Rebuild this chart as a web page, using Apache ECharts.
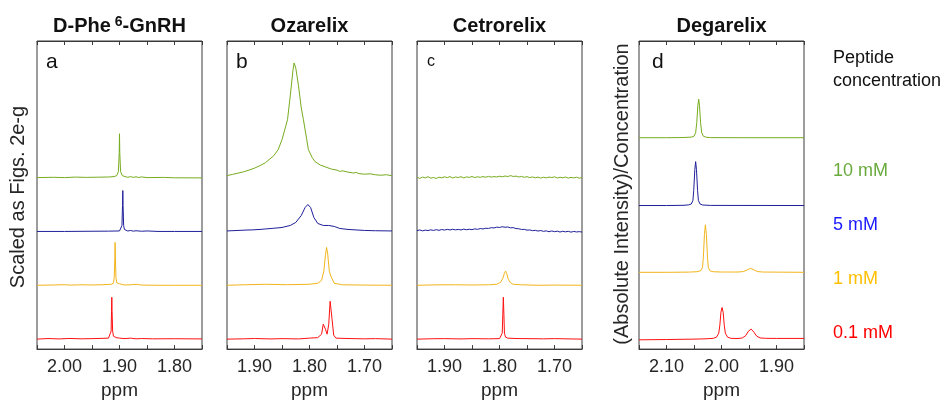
<!DOCTYPE html>
<html>
<head>
<meta charset="utf-8">
<script src="https://cdn.jsdelivr.net/npm/echarts@6/dist/echarts.min.js"></script>
<style>
  html, body { margin: 0; padding: 0; background: #fff; }
  #chart { width: 945px; height: 405px; }
</style>
</head>
<body>
<div id="chart"></div>
<script>
// concentrations, top trace first
const concentrations = ['10 mM', '5 mM', '1 mM', '0.1 mM'];
const lineColors = ['#77ac1e', '#1f1f9a', '#f2b51c', '#ff1010'];
const labelColors = ['#6aaa3c', '#1a1aff', '#ffbf00', '#ff0000'];

const panelTitles = ['{b|D-Phe}{s|6}{b|-GnRH}', '{b|Ozarelix}', '{b|Cetrorelix}', '{b|Degarelix}'];
const panelLetters = ['a', 'b', 'c', 'd'];
const ppmRanges = [[1.75, 2.05], [1.65, 1.95], [1.65, 1.95], [1.85, 2.15]];

// vertical offsets of the stacked spectra (same units as intensities)
const offsetsABC = [172, 118, 64, 10];
const offsetsD = [212, 144, 77, 10];

// panel a: D-Phe6-GnRH  [ppm, intensity]
const aGreen = [[2.05,0],[2.02,0.3],[2.00,0],[1.98,0.5],[1.96,0.2],[1.94,0.4],[1.92,0.6],[1.91,1],[1.905,2],[1.902,6],[1.9005,25],[1.900,44],[1.8995,25],[1.898,6],[1.895,2],[1.89,1],[1.885,0.3],[1.88,1],[1.875,0.2],[1.87,0.8],[1.865,0.1],[1.86,0.7],[1.85,0],[1.82,0.2],[1.80,-0.2],[1.75,-0.3]];
const aBlue = [[2.05,0],[2.00,0],[1.95,0.2],[1.92,0.3],[1.90,0.5],[1.897,1.5],[1.8955,6],[1.8945,26],[1.894,41],[1.8935,26],[1.8925,6],[1.891,2],[1.888,1],[1.885,0.4],[1.88,1],[1.875,0.3],[1.87,0.7],[1.86,0.2],[1.85,0.5],[1.83,0],[1.80,0],[1.75,0]];
const aYellow = [[2.05,0],[2.02,0.3],[2.00,0.6],[1.99,0.2],[1.97,0.5],[1.95,0.3],[1.93,0.6],[1.915,1],[1.911,2],[1.9095,8],[1.9085,28],[1.908,43],[1.9075,28],[1.9065,8],[1.905,2.5],[1.90,1.5],[1.895,0.8],[1.89,0.3],[1.88,0.5],[1.87,1],[1.86,0.2],[1.83,0],[1.80,0],[1.75,0]];
const aRed = [[2.05,0],[2.03,0.6],[2.01,0.2],[1.99,0.7],[1.97,0.3],[1.95,0.5],[1.93,0.8],[1.92,1],[1.9165,2],[1.9152,8],[1.9145,28],[1.914,42],[1.9135,28],[1.9125,8],[1.911,3],[1.906,1.5],[1.90,1],[1.89,0.5],[1.88,1],[1.87,0.3],[1.86,0.6],[1.84,0.3],[1.80,0.4],[1.75,0.2]];

// panel b: Ozarelix
const bGreen = [[1.95,2],[1.94,3.2],[1.93,4.5],[1.92,5.8],[1.91,7.5],[1.90,9.5],[1.89,12],[1.88,15],[1.865,22],[1.857,28],[1.85,38],[1.845,48],[1.84,58],[1.835,82],[1.83,108],[1.828,115],[1.825,110],[1.82,92],[1.815,70],[1.811,58],[1.805,38],[1.802,28],[1.795,20],[1.79,16],[1.78,12.5],[1.77,10.5],[1.76,8.5],[1.75,7.5],[1.745,6.2],[1.74,6.8],[1.73,5.5],[1.72,4.6],[1.715,5.2],[1.71,4],[1.70,3.4],[1.69,3.8],[1.68,2.8],[1.67,2.4],[1.66,2.9],[1.65,1.8]];
const bBlue = [[1.95,0.5],[1.93,1],[1.91,1.5],[1.908,3],[1.906,1.5],[1.89,2],[1.88,2.5],[1.865,3.2],[1.85,4],[1.835,6],[1.825,9],[1.815,16],[1.808,24],[1.803,27],[1.798,24],[1.792,14],[1.785,8],[1.775,6],[1.765,6],[1.755,5],[1.745,3],[1.73,2],[1.70,1],[1.68,0.7],[1.65,0.5]];
const bYellow = [[1.95,0],[1.92,0.5],[1.88,1],[1.84,0.6],[1.80,1],[1.785,2],[1.778,5],[1.774,14],[1.771,30],[1.769,38],[1.767,32],[1.764,14],[1.761,9],[1.758,7],[1.755,2],[1.74,0.5],[1.70,0.2],[1.65,0]];
const bRed = [[1.95,0],[1.92,0.3],[1.90,0.6],[1.87,0.2],[1.85,0.5],[1.82,0.2],[1.80,1],[1.785,1.5],[1.778,5],[1.775,15],[1.7735,17],[1.771,10],[1.768,5],[1.765,15],[1.7625,38],[1.7615,39],[1.759,20],[1.756,4],[1.752,1],[1.73,0.6],[1.70,0.3],[1.68,0.5],[1.65,0]];

// panel c: Cetrorelix
const cGreen = [[1.950,0.2],[1.945,-0.8],[1.940,0.5],[1.935,-0.3],[1.930,0.9],[1.925,-0.6],[1.920,0.1],[1.915,-0.9],[1.910,0.4],[1.905,-0.2],[1.900,0.8],[1.895,0.0],[1.890,1.0],[1.885,-0.4],[1.880,0.6],[1.875,0.1],[1.870,0.9],[1.865,-0.3],[1.860,0.7],[1.855,0.2],[1.850,1.1],[1.845,0.1],[1.840,0.8],[1.835,0.3],[1.830,1.0],[1.825,0.4],[1.820,1.2],[1.815,0.5],[1.810,1.0],[1.805,0.6],[1.800,1.4],[1.795,0.8],[1.790,1.6],[1.785,1.0],[1.780,2.0],[1.775,1.1],[1.770,1.5],[1.765,0.6],[1.760,1.2],[1.755,0.3],[1.750,0.9],[1.745,0.0],[1.740,0.7],[1.735,-0.2],[1.730,0.5],[1.725,-0.5],[1.720,0.4],[1.715,-0.3],[1.710,0.6],[1.705,0.0],[1.700,0.8],[1.695,-0.4],[1.690,0.3],[1.685,-0.2],[1.680,0.6],[1.675,-0.5],[1.670,0.2],[1.665,-0.3],[1.660,0.4],[1.655,-0.6],[1.650,0.1]];
const cBlue = [[1.950,0.8],[1.945,1.5],[1.940,0.6],[1.935,1.3],[1.930,0.9],[1.925,1.6],[1.920,1.0],[1.915,1.8],[1.910,1.1],[1.905,1.9],[1.900,1.4],[1.895,2.1],[1.890,1.5],[1.885,2.2],[1.880,1.6],[1.875,2.0],[1.870,1.5],[1.865,2.3],[1.860,1.7],[1.855,2.2],[1.850,1.8],[1.845,2.6],[1.840,2.1],[1.835,2.9],[1.830,2.5],[1.825,3.2],[1.820,3.0],[1.815,3.8],[1.810,3.5],[1.805,4.3],[1.800,4.0],[1.795,4.7],[1.790,4.2],[1.785,4.5],[1.780,3.6],[1.775,3.8],[1.770,2.9],[1.765,2.7],[1.760,2.0],[1.755,2.1],[1.750,1.3],[1.745,1.5],[1.740,0.8],[1.735,1.1],[1.730,0.4],[1.725,0.9],[1.720,0.1],[1.715,0.6],[1.710,-0.3],[1.705,0.5],[1.700,-0.2],[1.695,0.3],[1.690,-0.6],[1.685,0.2],[1.680,-0.4],[1.675,0.1],[1.670,-0.7],[1.665,0.0],[1.660,-0.5],[1.655,-0.2],[1.650,-0.6]];
const cYellow = [[1.95,0],[1.91,0.5],[1.88,0.5],[1.85,0.3],[1.82,0.5],[1.805,1],[1.798,3],[1.794,7],[1.791,12],[1.789,14.3],[1.787,12],[1.784,6],[1.78,2.5],[1.775,1],[1.76,0.5],[1.73,0],[1.70,0.2],[1.65,0]];
const cRed = [[1.95,0],[1.92,0.4],[1.90,0.5],[1.87,0.2],[1.85,0.5],[1.82,0.3],[1.80,0.5],[1.797,1.5],[1.795,6],[1.794,25],[1.793,42],[1.792,25],[1.791,6],[1.789,2],[1.785,1],[1.77,0.6],[1.75,0.5],[1.72,0.3],[1.70,0.5],[1.65,0]];

// panel d: Degarelix
const dGreen = [[2.15,0],[2.10,0],[2.07,0.2],[2.055,0.6],[2.05,1.5],[2.047,5],[2.045,15],[2.043,32],[2.0415,38.7],[2.040,32],[2.038,15],[2.036,5],[2.033,1.5],[2.028,0.5],[2.02,0.1],[1.95,0],[1.85,0]];
const dBlue = [[2.15,0],[2.10,0],[2.07,0.2],[2.06,0.6],[2.055,1.5],[2.052,5],[2.0505,15],[2.0485,36],[2.047,44],[2.0455,36],[2.0435,15],[2.042,5],[2.039,1.5],[2.034,0.5],[2.02,0.1],[1.85,0]];
const dYellow = [[2.15,0],[2.10,0],[2.06,0.2],[2.045,0.6],[2.038,1.5],[2.0345,5],[2.033,15],[2.031,38],[2.0293,47.7],[2.0275,38],[2.0255,15],[2.024,5],[2.021,1.5],[2.015,0.6],[2.00,0.3],[1.97,0.3],[1.96,0.8],[1.953,2.5],[1.947,4],[1.941,2.5],[1.935,0.8],[1.925,0.3],[1.85,0]];
const dRed = [[2.15,-0.7],[2.10,-0.4],[2.05,0],[2.03,0.3],[2.015,0.8],[2.009,2],[2.005,6],[2.003,14],[2.001,27],[1.999,31.7],[1.997,27],[1.995,14],[1.993,6],[1.989,2],[1.983,0.8],[1.97,0.6],[1.962,1.2],[1.956,3.5],[1.951,8],[1.946,10],[1.941,7],[1.936,3],[1.93,1.2],[1.92,0.8],[1.90,0.7],[1.85,0.7]];

const panelTraces = [
  [aGreen, aBlue, aYellow, aRed],
  [bGreen, bBlue, bYellow, bRed],
  [cGreen, cBlue, cYellow, cRed],
  [dGreen, dBlue, dYellow, dRed]
];
const panelOffsets = [offsetsABC, offsetsABC, offsetsABC, offsetsD];

const FONT = '"Liberation Sans", Arial, Helvetica, sans-serif';
const gridLefts = [37, 227, 417, 639];
const gridTop = 41;
const gridW = 165;
const gridH = 309;
const axisColor = '#3a3a3a';

const chart = echarts.init(document.getElementById('chart'), null, { renderer: 'canvas' });

const grids = [];
const xAxes = [];
const yAxes = [];
const series = [];
const graphics = [];

gridLefts.forEach((left, i) => {
  grids.push({
    left: left, top: gridTop, width: gridW, height: gridH,
    show: true, borderColor: axisColor, borderWidth: 1, backgroundColor: 'transparent'
  });
  const [lo, hi] = ppmRanges[i];
  // bottom axis with labels
  xAxes.push({
    type: 'value', gridIndex: i, min: lo, max: hi, interval: 0.05, inverse: true,
    position: 'bottom',
    name: 'ppm', nameLocation: 'middle', nameGap: 29,
    nameTextStyle: { fontFamily: FONT, fontSize: 19, color: '#262626' },
    axisLine: { show: true, lineStyle: { color: axisColor, width: 1 } },
    axisTick: { show: true, inside: true, length: 4, lineStyle: { color: axisColor } },
    axisLabel: {
      show: true, margin: 9, fontFamily: FONT, fontSize: 18, color: '#262626',
      showMinLabel: true, showMaxLabel: true,
      formatter: v => (Math.abs(Math.round(v * 100)) % 10 === 0 ? v.toFixed(2) : '')
    },
    splitLine: { show: false }
  });
  // top axis: ticks only
  xAxes.push({
    type: 'value', gridIndex: i, min: lo, max: hi, interval: 0.05, inverse: true,
    position: 'top',
    axisLine: { show: true, lineStyle: { color: axisColor, width: 1 } },
    axisTick: { show: true, inside: true, length: 4, lineStyle: { color: axisColor } },
    axisLabel: { show: false },
    splitLine: { show: false }
  });
  yAxes.push({
    type: 'value', gridIndex: i, min: 0, max: gridH, show: false, splitLine: { show: false }
  });

  panelTraces[i].forEach((trace, k) => {
    const off = panelOffsets[i][k];
    series.push({
      type: 'line',
      name: concentrations[k],
      xAxisIndex: i * 2,
      yAxisIndex: i,
      data: trace.map(p => [p[0], off + p[1]]),
      showSymbol: false,
      symbol: 'none',
      smooth: false,
      clip: true,
      lineStyle: { color: lineColors[k], width: 1 },
      emphasis: { disabled: true },
      silent: true
    });
  });

  // panel title
  graphics.push({
    type: 'text', x: left + gridW / 2, y: 26,
    style: {
      text: panelTitles[i], align: 'center', verticalAlign: 'middle',
      rich: {
        b: { fontFamily: FONT, fontSize: 20, fontWeight: 'bold', fill: '#111' },
        s: { fontFamily: FONT, fontSize: 14, fontWeight: 'bold', fill: '#111', verticalAlign: 'top', padding: [0, 0, 8, 4] }
      }
    }
  });
  // panel letter
  const letterX = [46, 236, 427, 652][i];
  graphics.push({
    type: 'text', x: letterX, y: 62,
    style: {
      text: panelLetters[i], fontFamily: FONT, fontSize: i === 2 ? 16 : 21,
      fill: '#111', align: 'left', verticalAlign: 'middle'
    }
  });
});

// y-axis names
graphics.push({
  type: 'text', x: 18, y: 197, rotation: Math.PI / 2,
  style: { text: 'Scaled as Figs. 2e-g', fontFamily: FONT, fontSize: 20, fill: '#262626', align: 'center', verticalAlign: 'middle' }
});
graphics.push({
  type: 'text', x: 622, y: 194, rotation: Math.PI / 2,
  style: { text: '(Absolute Intensity)/Concentration', fontFamily: FONT, fontSize: 20, fill: '#262626', align: 'center', verticalAlign: 'middle' }
});

// right-hand concentration key
graphics.push({
  type: 'text', x: 833, y: 58,
  style: { text: 'Peptide', fontFamily: FONT, fontSize: 18, fill: '#111', align: 'left', verticalAlign: 'middle' }
});
graphics.push({
  type: 'text', x: 833, y: 81,
  style: { text: 'concentration', fontFamily: FONT, fontSize: 18, fill: '#111', align: 'left', verticalAlign: 'middle' }
});
const keyY = [171, 225, 279, 333];
concentrations.forEach((c, k) => {
  graphics.push({
    type: 'text', x: 833, y: keyY[k],
    style: { text: c, fontFamily: FONT, fontSize: 18, fill: labelColors[k], align: 'left', verticalAlign: 'middle' }
  });
});

chart.setOption({
  backgroundColor: '#ffffff',
  animation: false,
  grid: grids,
  xAxis: xAxes,
  yAxis: yAxes,
  series: series,
  graphic: graphics
});
</script>
</body>
</html>
